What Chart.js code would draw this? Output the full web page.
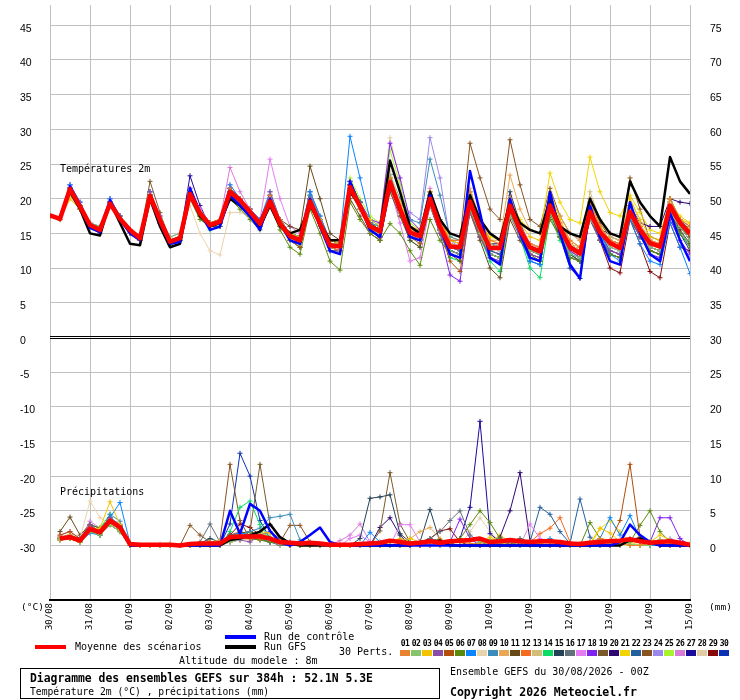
<!DOCTYPE html>
<html>
<head>
<meta charset="utf-8">
<title>Diagramme des ensembles GEFS</title>
<script src="https://cdn.jsdelivr.net/npm/chart.js@4.4.0/dist/chart.umd.min.js"></script>
<style>
  html, body { margin: 0; padding: 0; background: #fff; }
  #wrap { position: relative; width: 740px; height: 700px; overflow: hidden;
          font-family: "DejaVu Sans Mono", "Liberation Mono", monospace; color: #000; }
  #chart { position: absolute; left: 0; top: 0; }
  .txt { position: absolute; white-space: nowrap; font-size: 10px; line-height: 10px; }
  .key { position: absolute; width: 31px; height: 4px; }
  .sw { position: absolute; top: 650px; width: 10px; height: 6px; }
  .num { position: absolute; top: 640px; width: 11px; text-align: center; font-size: 8px;
         line-height: 8px; font-weight: bold; letter-spacing: -0.6px; }
  #box { position: absolute; left: 20px; top: 668px; width: 420px; height: 31px;
         border: 1px solid #000; box-sizing: border-box; }
</style>
</head>
<body>
<div id="wrap">
  <canvas id="chart" width="740" height="700"></canvas>

  <div class="txt" style="left:60px;top:164px">Températures 2m</div>
  <div class="txt" style="left:60px;top:487px">Précipitations</div>
  <div class="txt" style="left:21px;top:602px;font-size:9.5px">(°C)</div>
  <div class="txt" style="left:709px;top:602px;font-size:9.5px">(mm)</div>

  <div class="key" style="left:35px;top:645px;background:#ff0000"></div>
  <div class="txt" style="left:75px;top:642px">Moyenne des scénarios</div>
  <div class="key" style="left:225px;top:635px;background:#0000ff"></div>
  <div class="txt" style="left:264px;top:632px">Run de contrôle</div>
  <div class="key" style="left:225px;top:645px;background:#000"></div>
  <div class="txt" style="left:264px;top:642px">Run GFS</div>
  <div class="txt" style="left:179px;top:656px">Altitude du modele : 8m</div>
  <div class="txt" style="left:339px;top:647px">30 Perts.</div>
  <div id="swatches"></div>

  <div id="box"></div>
  <div class="txt" style="left:30px;top:672px;font-size:11.4px;line-height:12px;font-weight:bold">Diagramme des ensembles GEFS sur 384h : 52.1N 5.3E</div>
  <div class="txt" style="left:30px;top:687px;font-size:9.7px">Température 2m (°C) , précipitations (mm)</div>
  <div class="txt" style="left:450px;top:667px">Ensemble GEFS du 30/08/2026 - 00Z</div>
  <div class="txt" style="left:450px;top:686px;font-size:11.5px;line-height:12px;font-weight:bold">Copyright 2026 Meteociel.fr</div>
</div>

<script>
// time axis (hours after 30/08 00Z) and day labels
const hours = [0,6,12,18,24,30,36,42,48,54,60,66,72,78,84,90,96,102,108,114,120,126,132,138,144,150,156,162,
  168,174,180,186,192,198,204,210,216,222,228,234,240,246,252,258,264,270,276,282,288,294,300,306,312,318,
  324,330,336,342,348,354,360,366,372,378,384];
const dayLabels = ['30/08','31/08','01/09','02/09','03/09','04/09','05/09','06/09','07/09','08/09',
  '09/09','10/09','11/09','12/09','13/09','14/09','15/09'];

const memberColors = ['#e8822e','#88c46c','#f2c300','#8a4ea6','#b04e0a','#5a8a0a','#0a84ff','#e8d4ac',
  '#3a8cba','#e8a858','#654a18','#f46a1e','#d2be78','#0adc64','#234258','#62707a','#e47cf4','#8022f0',
  '#7a5a2a','#2e0870','#f2d400','#24609e','#8a5420','#9c88ec','#a6f430','#d87ad8','#1c0a9a','#e2cca4',
  '#860808','#0a30b4'];

// left axis (°C) ticks, the two ±0.2 ticks make the double zero line
const tempTicks = [-30,-25,-20,-15,-10,-5,-0.2,0,0.2,5,10,15,20,25,30,35,40,45];
const mmTicks = [0,5,10,15,20,25,30,35,40,45,50,55,60,65,70,75];

// temperature 2m (°C)
const tempMean = [17.6,17.1,21.4,18.9, 16.2,15.5,19.3,17.1, 15.5,14.3,20.4,16.9, 13.8,14.3,20.7,17.9,
  16.2,16.7,21.0,19.8, 18.1,16.4,19.6,16.4, 14.6,14.0,19.6,16.4, 13.3,13.1,21.7,18.9, 16.0,15.3,22.4,18.5,
  15.1,14.6,20.0,16.0, 13.1,13.0,19.6,15.8, 12.9,12.9,19.0,15.5, 13.0,12.4,19.0,15.8, 13.0,12.1,18.1,15.2,
  13.6,12.9,18.1,15.5, 13.6,13.1,19.0,16.5, 15.0];
const tempControl = [17.6,17.0,21.8,19.0, 15.8,15.2,19.8,17.0, 15.0,14.0,20.5,16.5, 13.5,13.8,21.5,18.0,
  15.5,16.0,20.5,19.0, 17.5,15.5,20.0,16.5, 14.0,13.5,20.0,16.0, 12.5,12.0,22.5,19.0, 15.5,14.5,22.0,18.5,
  14.5,14.0,20.5,16.0, 12.0,11.5,24.0,18.0, 11.5,10.5,20.0,15.0, 11.5,11.0,21.0,15.0, 10.5,8.5,19.0,14.5,
  11.0,10.5,19.5,15.0, 12.0,11.0,18.0,14.0, 11.0];
const tempGfs = [17.6,17.2,21.0,18.5, 15.0,14.7,19.5,16.5, 13.5,13.3,20.0,16.0, 13.0,13.5,20.5,17.5,
  16.0,16.5,20.0,19.0, 17.5,16.0,19.0,16.0, 15.0,15.5,19.0,16.5, 14.0,14.0,21.0,19.0, 16.0,15.5,25.5,21.0,
  16.0,15.0,21.0,17.0, 15.0,14.5,20.5,17.0, 15.0,14.0,19.5,16.5, 15.5,15.0,20.0,16.0, 15.0,14.5,20.0,17.0,
  15.0,14.5,22.5,19.5, 17.5,16.0,26.0,22.5, 20.7];
const tempPerts = [
  /*01*/ [17.5,17,21.5,19, 16,15.5,19.5,17, 15.5,14,20.5,17, 14,14.5,21,18, 16.5,17,21.5,20, 18.5,16.5,20.5,17, 15,14,20,16.5, 13,12.5,22,19, 16,15,23,19, 15.5,15,21,17, 14,14,21,17, 14,13.5,20,16, 13.5,13,20,16.5, 14,13,19.5,16, 14,13.5,19,16, 14,13.5,20,17, 16],
  /*02*/ [17.5,17,21,18.5, 16.5,16,19,17, 15.5,14.5,20,17, 14.5,15,20,18, 16,16.5,20,19, 17.5,16,19,16, 14,13.5,19,16, 13.5,13.5,21,18.5, 15.5,15,21.5,18, 15,14,19,15.5, 12.5,12,18.5,15, 12,11.5,17.5,15, 12.5,12,18,15, 12,11.5,17,15, 13,12.5,17.5,15, 13,12.5,18,16, 14],
  /*03*/ [17.5,17,20,18.5, 16,15.5,19,17, 15,14,20,17, 14,14.5,20.5,18, 16.5,17,20,19, 18,16.5,19.5,16.5, 15,14.5,19.5,17, 14,13.5,21,19, 17,16,23,19.5, 16,15,21,17, 14,13.5,21,17, 14,13.5,20,16.5, 14.5,14,21,17, 14,13,19.5,16, 14,13,20,17, 14.5,14,20,17, 16.5],
  /*04*/ [17.5,17,21.5,19, 16,15,19.5,17, 15,14,21,17.5, 13.5,14,21.5,18, 16,16.5,21,19.5, 17.5,16,21,17, 14.5,13.5,20,16.5, 12.5,12.5,22.5,19, 15.5,14.5,22,18, 14.5,14,19,15, 12,11.5,18,14.5, 11.5,11,17.5,14.5, 12,11.5,18.5,15, 12.5,11.5,17,14, 12.5,12,17.5,14.5, 13,12.5,18.5,16, 14],
  /*05*/ [17.5,17,21,18.5, 16,15.5,19,17, 15.5,14.5,20,17, 14,14.5,20,17.5, 16,16.5,20.5,19.5, 18,16.5,19,16, 14,13,19,16, 13,12.5,21,18.5, 15.5,14.5,22,18, 14.5,13.5,19.5,15.5, 11,9.5,18,14.5, 12,11.5,18.5,15, 12.5,12,18,15, 13,12.5,17.5,15, 13.5,13,17.5,15, 13,12.5,18.5,16, 14.5],
  /*06*/ [17.5,17,21,18.5, 16,15.5,19,17, 15.5,14.5,20,16.5, 13.5,14,20,17, 16,16,20,18.5, 17,15.5,19,15.5, 13,12,18.5,15, 11,9.7,19.5,17, 15,14,16.4,15, 12.5,10.4,17,14, 12,11.5,18.5,15, 12,11.5,18,15, 12,11,17,14.5, 11.5,11,17,14, 12,11.5,18,15, 12.5,12,17.5,15, 13],
  /*07*/ [17.5,17,22,19.5, 16.5,16,20,17.5, 15.5,14.5,21,17, 14,14.5,21,18, 16.5,17,22,20, 18.5,17,21,17, 15,14.5,21,17.5, 14,14,29,23, 17,16,22,18, 14.5,14,20,15.5, 12,11.5,19,15, 12,11.5,18,14.5, 11,10.5,19,15, 12,11.5,18.5,15, 12,11,17,13.5, 11,10.5,16.5,13, 9.2],
  /*08*/ [17.5,17,20,18.5, 16,15,19,17, 15.5,14.5,20,17, 14,14.5,19,15, 12.5,11.9,18,18, 17.5,16,19,16, 14.5,14,19,16.5, 13.5,13,21,18.5, 16,15,24,19.5, 15.5,15,21,17, 13.5,13,20,16, 13,12.5,19.5,16, 13.5,13,19.5,16, 13.5,12.5,18.5,15.5, 13.5,13,18.5,15.5, 14,13.5,19.5,16.5, 15],
  /*09*/ [17.5,17,21.5,19, 16,15.5,19.5,17.5, 15.5,14.5,20.5,17, 14,14.5,21,18, 16.5,17,21,19.5, 18,16.5,20,17, 15,14.5,20.5,17, 13.5,13,22.5,19.5, 16.5,16,23.5,20, 17,16.5,25.7,20.5, 14.5,14,21,16.5, 13,12.5,19,15.5, 13,12.5,19.5,16, 13,12,18.5,15, 13.5,13,18.5,15.5, 13.5,13,19.5,16.5, 15],
  /*10*/ [17.5,17,21,18.5, 16,15.5,19,17, 15.5,14.5,20,17, 14,14.5,20.5,18, 16.5,17,21,20, 18,16.5,20,16.5, 14.5,14,19.5,16.5, 13.5,13,21.5,19, 16,15.5,22.5,19, 15.5,15,20.5,16.5, 14,13.5,21.5,17, 14,14,23.4,18.5, 15.5,15,20,17.5, 15,14,19.5,16, 14,13.5,18.5,16, 14,13.5,19,16.5, 15.5],
  /*11*/ [17.5,17,21,19, 16,15.5,19,17, 15.5,14.5,20.5,17, 14,14.5,21,18, 16.5,17,21,19.5, 18,16.5,20,17, 16,15.5,24.7,20, 15,14,20,17.5, 15,14,21,17.5, 14,13,19,15, 12,11,18,14, 10,8.6,17,14, 11.5,11,18,14.5, 12,11,17,14, 12,11.5,17,14.5, 12.5,12,18,15.5, 13.5],
  /*12*/ [17.5,17,21.5,19, 16.5,16,19.5,17.5, 15.5,14.5,20.5,17, 14,14.5,20.5,18, 16,16.5,21,20, 18,16.5,19.5,16.5, 14.5,14,20,16.5, 13.5,13,22,19, 16,15.5,22.5,18.5, 15,14.5,20,16, 13.5,13,20,16, 13,13,19,15.5, 13,12.5,19.5,16, 13.5,12.5,18,15.5, 14,13.5,18.5,16, 13.5,13,19,16.5, 15],
  /*13*/ [17.5,17,20.5,18.5, 16,15.5,19,17, 15.5,14.5,20,16.5, 14,14.5,20,17.5, 16,16.5,20.5,19.5, 18,16.5,19,16, 14.5,14,19,16, 13,13,21,18.5, 16,15,22,18.5, 15.5,15,21,17, 14,13.5,20.5,16.5, 13.5,13,19.5,16, 13.5,13,19.5,16, 13.5,13,21,17, 14.5,14,20,16.5, 14,13.5,19.5,16.5, 15.5],
  /*14*/ [17.5,17,21.5,19, 16,15.5,19.5,17, 15,14,20,16.5, 13.5,14,20.5,17.5, 15.5,16,21,19.5, 17.5,16,19.5,16, 14,13,19.5,16, 12.5,12.5,21.5,18.5, 15.5,15,22,18, 14,13,19.5,15, 11.5,11,18.5,14.5, 11,9.5,18,14.5, 10,8.6,17.5,14, 11.5,11,17,14, 12,11.5,17.5,14.5, 12.5,12,18,15, 13.5],
  /*15*/ [17.5,17,21.5,19, 16,15,19.5,17, 15,14,20.5,17, 13.5,14,21,18, 16,16.5,21.5,20, 18,16.5,20,17, 15,14.5,20,17, 13.5,13,22.5,19.5, 16.5,15.5,23.5,19, 15,14,20.5,16.5, 13.5,13,20,16, 13.5,13,21,16.5, 13,12.5,19,15.5, 13,12,18,15, 14,13.5,19,16, 14,13.5,20,17, 15.5],
  /*16*/ [17.5,17,21,18.5, 16,15.5,19,17, 15.5,14.5,20,17, 14,14.5,20.5,18, 16,16.5,20.5,19.5, 18,16.5,19.5,16.5, 15,14.5,21,17.5, 14,13.5,22,19, 16,15,22,18.5, 15,14.5,19.5,16, 13,12.5,19.5,16, 13.5,13,18.5,15.5, 13,12.5,18.5,15.5, 13,12.5,18,15, 13.5,13,18,15.5, 13.5,13,18.5,16, 14.5],
  /*17*/ [17.5,17,22,19.5, 16,15.5,20,17.5, 15.5,14.5,21,17.5, 14,14.5,21.5,18.5, 16.5,17,22,20, 18.5,17,25.7,20, 16,15,21,17, 13.5,13,22.5,19, 15,14,21.5,16.5, 11,11.5,19,15, 13,12.5,20,16, 13,12.5,20,16, 13.5,13,20,16.5, 13,12,18.5,15, 13.5,12.5,18,15, 13.5,13,19.5,16.5, 14.5],
  /*18*/ [17.5,17,21.5,19, 16,15.5,19.5,17, 15.5,14.5,20.5,17, 14,14.5,21,18, 16.5,17,21,20, 18.5,16.5,20,16.5, 14.5,14,20,16.5, 13.5,13,22,19.5, 17,16.5,28,23, 17,15.5,20,15, 9,8.1,18.5,14.5, 11.5,11,18.5,15, 12.5,12,19,15.5, 12.5,11.5,18,15, 13,12.5,18.5,15.5, 12,11.5,17,14, 12],
  /*19*/ [17.5,17,21.5,19, 16,15.5,19.5,17.5, 15.5,14.5,22.5,18, 14,14.5,21,18, 16.5,17,21.5,20, 18.5,17,20.5,17, 15,14.5,20.5,17, 14,13.5,22,19.5, 16.5,15.5,22.5,18.5, 15,14.5,20.5,16, 13,12.5,19.5,15.5, 13,12.5,19,15.5, 13.5,13,19.5,16, 13.5,12.5,19,15.5, 14,13.5,18.5,16, 14.5,14,20,17, 16],
  /*20*/ [17.5,17,21.5,19, 16,15.5,19.5,17, 15,14,20.5,17, 14,14.5,21,18, 16,16.5,21,20, 18,16.5,20,16.5, 14.5,14,20,16.5, 13,13,22,19, 16,15,23,19, 15,14.5,20.5,16.5, 13.5,13,20.5,16.5, 13.5,13.5,19.5,16, 13.5,13,19.5,16, 13.5,12.5,18.5,15.5, 15,14.5,19,16.5, 16,16,20,19.5, 19.3],
  /*21*/ [17.5,17,20.5,18.5, 16,15.5,19,17, 15.5,14.5,20,17, 14,14.5,20,17.5, 16,16.5,20.5,19.5, 18,16.5,19.5,16.5, 15,14.5,19.5,16.5, 14,13.5,21.5,19, 16.5,16,22.5,19, 16,15.5,20.5,17, 14.5,14,20,16.5, 14.5,14,20,17, 15.5,15,23.7,19.5, 17,16.5,26,21, 18,17.5,20.5,18, 15.5,15,19.5,17.5, 16.5],
  /*22*/ [17.5,17,21.5,19, 16,15.5,19.5,17, 15.5,14.5,20.5,17, 14,14.5,21,18, 16.5,17,21.5,20, 18,16.5,20,17, 15,14.5,20,17, 13.5,13,22,19, 16,15,23,19, 15.5,15,21,16.5, 13,12.5,20,16, 12.5,12,19,15.5, 12.5,12,19.5,15.5, 12,11,19,15, 12.5,12,18.5,15, 13.5,13,19,16, 14],
  /*23*/ [17.5,17,21.5,19, 16,15.5,19.5,17, 15.5,14.5,20.5,17, 14,14.5,20.5,18, 16.5,17,21,19.5, 18,16.5,19.5,16.5, 14.5,14,19.5,16.5, 13.5,13,21.5,19, 16,15.5,22,18.5, 15.5,15,20,16.5, 14,14,28,23, 18.5,17,28.5,22, 17,16,21.5,17.5, 15,14,20,16.5, 14.5,14,23,18.5, 14,13,19.5,16.5, 14.5],
  /*24*/ [17.5,17,21.5,19, 16,15.5,19.5,17, 15.5,14.5,20.5,17.5, 14.5,15,21,18.5, 16.5,17,21.5,20, 18.5,17,20.5,17, 15,14.5,20,17, 13.5,13.5,22.5,19.5, 16.5,16,23,19.5, 18,17,28.8,23, 14,13,20,16, 12.5,12,19,15.5, 12.5,12,19,15.5, 12.5,11.5,18,15, 12.5,12,18,15, 13,12.5,18.5,15.5, 13],
  /*25*/ [17.5,17,21.5,19, 16,15.5,19.5,17.5, 15.5,14.5,20.5,17, 14,14.5,21,18, 16.5,17,21,20, 18,16.5,20,16.5, 15,14.5,20.5,17, 14,13.5,23,20, 17.5,16.5,27,22, 16.5,15.5,21,17, 13.5,13,20,16, 13,12.5,19.5,16, 13,12.5,19.5,16, 13,12.5,18.5,16, 15,14.5,18.5,16, 14,13.5,19.5,16.5, 15],
  /*26*/ [17.5,17,21.5,19, 16,15.5,19.5,17, 15.5,14.5,20.5,17, 14,14.5,21,18, 16.5,17,24.5,21, 18.5,17,20.5,17, 15,14.5,20,16.5, 13.5,13,22,19, 16,15,23,19.5, 16,15.5,21.5,17, 14,13.5,21,17, 13.5,13,20.5,16.5, 13.5,13,19.5,16, 12.5,11.5,17.5,14.5, 13.5,13,18,15, 13.5,13,19,16, 14.5],
  /*27*/ [17.5,17,22,19.5, 16,15.5,20,17.5, 15.5,14.5,21,17, 14,14.5,23.3,19, 16,16,21,19.5, 17.5,16,19.5,16, 14.5,14,20,16.5, 13.5,13,22,19, 16.5,15.5,22.5,18.5, 14.5,14,19.5,15.5, 12.5,12,19.5,15.5, 12,11.5,19,15, 12.5,12,19,15.5, 12,11,17.5,14, 12.5,12,18,15, 13,12.5,19,16, 14],
  /*28*/ [17.5,17,21,18.5, 16,15.5,19,17, 15.5,14.5,20,17, 14,14.5,20.5,17.5, 16.5,17,21,19.5, 18,16.5,19.5,16.5, 14.5,14,20,16.5, 13.5,13,22,19.5, 17,16.5,28.8,22.5, 16,15,20.5,16.5, 13.5,13,20,16, 13.5,13,19.5,16, 13.5,13,19.5,16, 13.5,12.5,18.5,15.5, 14,13.5,18.5,16, 14,13.5,19.5,16.5, 15],
  /*29*/ [17.5,17,21.5,19, 16,15.5,19.5,17, 15,14,20,16.5, 13.5,14,20.5,17.5, 16,16.5,21,19.5, 18,16.5,19.5,16.5, 14,13,19.5,16, 12.5,12.5,21.5,18.5, 15.5,14.5,22,18, 14.5,14,19.5,15.5, 12.5,12,19,15, 12.5,12,18.5,15, 12,11.5,18,14.5, 11.5,11,17.5,14, 10,9.3,17,13.5, 9.5,8.6,16.5,13, 12.5],
  /*30*/ [17.5,17,21.5,19, 16,15.5,19.5,17, 15.5,14.5,20.5,17, 14,14.5,20.5,18, 16,16.5,21,19.5, 18,16.5,19.5,16.5, 14.5,14,20,16.5, 13,12.5,22,19, 15.5,14.5,22,18, 14.5,14,19.5,15.5, 12.5,12,19.5,15.5, 12,11.5,19,15, 11,10.5,19,14.5, 10,8.5,18,14, 12,11.5,17.5,14.5, 12.5,12,18,15, 12.5]
];

// precipitation (mm per 6 h), nothing at the analysis time
const precipMean = [null, 1.0,1.2,0.7,2.4,1.9,3.6,2.6,0.2, 0.1,0.1,0.1,0.1,0,0.2,0.3,0.3,0.3,
  1.2,1.3,1.3,1.3,1.0,0.5,0.4,0.3,0.4,0.3,0.1, 0.1,0.1,0.2,0.3,0.4,0.7,0.5,0.3,0.4,0.6,0.4,0.6,
  0.7,0.8,1.0,0.5,0.6,0.8,0.6,0.5,0.6,0.6,0.5,0.3, 0.2,0.4,0.5,0.6,0.7,0.9,0.6,0.4,0.5,0.6,0.4,0.1];
const precipControl = [null, 1,1.2,0.8,2.3,1.8,3.5,2.5,0, 0,0,0,0,0,0,0,0,0, 5,1.7,6,5,2.1,0.5,0,0.5,1.5,2.6,0.5,
  0,0,0,0,0,0,0,0,0,0,0,0, 0,0,0,0,0,0,0,0,0,0,0,0, 0,0,0,0,0.5,3,1.5,0.5,0,0,0,0];
const precipGfs = [null, 1,1.3,0.8,2.4,2,3.6,2.6,0, 0,0,0,0,0,0,0,0,0, 0.8,1,1.5,2,3.1,1.2,0.3,0,0,0,0,
  0,0,0,0,0,0,0,0,0.5,0.7,0.7,0, 0,0,0,0,0,0,0,0,0,0,0,0, 0,0,0,0,0,0.8,1,0.5,0,0,0,0];
const precipPerts = [
  /*01*/ [null, 1.2,1.5,0.8,2.5,2,3.5,2.5,0, 0,0,0,0,0,0,0.3,0.5,0.2, 1,1.5,1.2,1,0.8,0.3,0,0,0,0,0, 0,0,0,0,0,0.5,0.8,0.3,0,0,0.2,0.5, 0.5,0.3,0.2,0,0,0,0,0.5,0.3,0,0,0, 0,0.5,1,0.8,0.3,0,0,0.5,0.3,0,0,0],
  /*02*/ [null, 1,1.2,0.5,2,1.5,3,2,0, 0,0,0,0,0,0,0,0.2,0.3, 0.5,1,1.5,2,1.2,0.5,0.3,0,0,0,0, 0,0,0,0,0,0,0.3,0.5,0.2,0,0,0, 0,0,0.5,0.3,0.2,0,0,0,0.5,0.8,0.3,0, 0,0,0,0.3,0.5,0.2,0,0,0.8,0.5,0.2,0],
  /*03*/ [null, 0.8,1,0.5,2.2,2.5,6.3,3,0.2, 0,0,0,0,0,0,0,0,0, 0.8,1.2,1.5,2,1.8,0.8,0.3,0,0,0,0, 0,0,0,0,0,0,0,1,0.5,0,0,0, 0,0,0.3,1.2,0.5,0,0,0,0.3,0.5,0.2,0, 0,0.3,2.5,1.8,0.5,0,0,0.5,1.5,0.8,0.3,0],
  /*04*/ [null, 1,1.3,1,3,2,4,3,0.3, 0,0,0,0,0,0,0,0,0, 1,0.8,0.5,1.5,2,1,0.5,0.3,0,0,0, 0,0,0,0,0,0,0,0,0,0.5,0.3,0, 0,0,0,0.2,0.3,0.5,0.3,0,0,0,0,0, 0,0,0,0,0.5,1,0.8,0.3,0,0,0,0],
  /*05*/ [null, 1.5,2,1,2.8,2,3.5,2.5,0, 0,0,0,0,0,0,0,0,0, 1.5,1.5,1.2,1,1,0.5,0,0,0,0,0, 0,0,0,0,0,0,0,0,0,0.5,0.8,0.3, 0,0,0,0,0.5,0.3,0,0,0,0,0,0, 0,0.3,0.5,0.5,3.6,11.7,1.2,0.3,0,0,0,0],
  /*06*/ [null, 1,1,0.5,2,1.5,3,2,0, 0,0,0,0,0,0,0.3,0.5,0, 1,1.5,1,0.8,0.5,0.3,0,0,0,0,0, 0,0,0,0,0,0,0,0.5,0.3,0,0,0.5, 1,3,5,3.3,1,0.5,0,0,0,0,0,0, 0,3.3,1,0.5,0.3,0.5,2.9,5,2,0.5,0,0],
  /*07*/ [null, 0.8,1,0.5,1.8,1.5,4,6.2,0.3, 0,0,0,0,0,0,0,0,0, 1.5,1.8,1.5,1,0.5,0.3,0,0,0,0,0, 0,0,0,1.9,0.5,0,0,0,0,0,0,0, 0,0,0,0,0.5,0,0,0,0.5,1,0.3,0, 0,0.3,1,4,1.5,4.3,1,0,0,0,0,0],
  /*08*/ [null, 1,1.5,1,6.4,4,3,2,0.2, 0,0,0,0,0,0,0,0,0, 0.5,0.8,1,1.2,0.8,0.5,0.3,0,0,0,0, 0,0,0,0,0,0,0,0,0,0,0,0, 0,0,0,0,0,0,0,0.3,0.5,0.3,0,0, 0,0,0,0,0,0,0,0,0,0,0,0],
  /*09*/ [null, 1,1.2,0.8,2.5,2,4.5,3.5,0, 0,0,0,0,0,0,0,0,0, 1,1.5,2,2.5,4,4.2,4.5,0.8,0,0,0, 0,0,0,0,0,0,0,0,0,0,0,0, 0,0,0,0,0,0.5,0.8,0.3,0,0,0,0, 0,0,0,0,0,0,0,0,0,0,0,0],
  /*10*/ [null, 1.2,1.5,1,2.5,2.2,4,3,0, 0,0,0.2,0.3,0,0,0,0.5,0.8, 1.2,1,0.8,1.5,1,0.5,0,0,0,0,0, 0,0,0,0,0,0.5,0.8,1,2,2.6,1,0, 0,0,0,0,0,0,0,0,0,0,0,0, 0.3,0.5,0.8,0.5,0,0,0,0.5,0.8,0.5,0,0],
  /*11*/ [null, 2,4.1,1.5,3,2.5,3.5,2.8,0, 0,0,0,0,0,0,0,0,0, 1.5,1.8,2,1.5,1,0.5,0,0,0,0,0, 0,0,0,0,0,0,0,0,0,0,0,0, 0,0,0,0,0,0.5,1,0.5,0,0,0,0, 0,0,0,0,0,0,0,0,0,0,0,0],
  /*12*/ [null, 1,1.2,0.8,2.5,2,3.8,2.5,0, 0,0,0,0,0,0,0,0,0, 1.5,2,1.5,1,0.8,0.3,0,0,0,0,0, 0,0,0,0,0,0,0,0,0,0,0,0, 0,0,0,0,0,0,0,0.5,1.7,2.5,4,0.5, 0,0,0,0,0,0,0,0,0,0,0,0],
  /*13*/ [null, 1,1.3,0.8,2,1.8,3.2,2.2,0, 0,0,0,0,0,0,0,0,0, 0.8,1,1.2,1,0.8,0.5,0.5,0.3,0,0,0, 0,0,0,0,0,0,0,0,0,0,0,0, 0,0,0,0,0,0,0,0,0,0,0,0, 0,0,0.3,0.5,0.3,0,0,0,0,0,0,0],
  /*14*/ [null, 1,1.5,1,3,2.5,4.5,2,0, 0,0,0,0,0,0,0,0,0, 2,5.5,6.4,3,1,0.3,0,0,0,0,0, 0,0,0,0,0,0,0,0,0,0,0,0, 0,0,0.5,0.8,0.3,0,0,0,0,0,0,0, 0,0,0,0,0,0,0,0.5,0.8,0.5,0,0],
  /*15*/ [null, 1,1.2,0.8,2.5,2,3.5,2.5,0, 0,0,0,0,0,0,0.3,1,0.5, 0.5,0.8,1,1,0.8,0.5,0.3,0.3,0,0,0, 0,0,1,6.8,7,7.3,1.7,0.5,0.5,5.2,0.5,0, 0,0,0,0,0,0,0,0,0,0,0,0, 0,0,0,0,0,0,0,0,0,0,0,0],
  /*16*/ [null, 1,1.2,1,2.2,2,3.5,2.5,0, 0,0,0,0,0,0,0.5,3.1,0.5, 0.8,1,1.2,1,0.5,0,0,0,0,0,0, 0,0,0,0,0,0,0,0,0,1,2,3.6, 5,1.5,0.5,0,0,0,0,0,0,0,0,0, 0,0,0,0,0,0,0,0,0,0,0,0],
  /*17*/ [null, 1,1.3,0.8,2.8,2,3.8,3,0, 0,0,0,0,0,0,0,0,0, 1.2,1.5,1.5,1,0.8,0.5,0,0,0,0,0, 0,1,1.5,0.5,0,0,3,3,0.5,0,0,0, 0,0,0,0,0,0,0,3.1,1,0,0,0, 0,0,0,0,0,0,0,0,0,0,0,0],
  /*18*/ [null, 1.2,1.5,1,2.5,2,3.5,3,0, 0,0,0,0,0,0,0,0,0, 1,1.2,1.5,1.5,1,0.5,0,0,0,0,0, 0,0,0,0,0,0,0,0,0,0,0,0.5, 3.8,1,0,0,0,0,0,0,0,0,0,0, 0,0,0,0,0,0,0,0.5,4,4,1,0],
  /*19*/ [null, 1,1.3,0.8,2.5,2.2,3.5,2.5,0, 0,0,0,0,0,0,0,0,0, 0.5,1,2,11.7,3,1,0.3,0,0,0,0, 0,0,0,0,2.1,10.5,3.1,0.5,0,0,0,0, 0,0,0,0,0,0,0,0,0,0,0,0, 0,0,0,0,0,0,0,0,0,0,0,0],
  /*20*/ [null, 1,1.2,0.8,2.2,1.8,3.5,2.8,0, 0,0,0,0,0,0,0,0,0, 1,1.2,1,1,0.8,0.3,0,0,0,0,0, 0,0,0,0,2.6,4,1.5,0,0,0,0,0, 0,0,0,0,1.2,5,10.5,0.7,0,0,0,0, 0,0,0,0,0,0,0,0,0,0,0,0],
  /*21*/ [null, 0.8,1,0.5,2,1.8,3.5,2.5,0, 0,0,0,0,0,0,0,0,0, 0.8,1,1.5,1.8,1.2,0.5,0,0,0,0,0, 0,0,0,0,0,0.5,1,0.5,0,0,0,0, 0,0,0,0.5,1.5,0.5,0,0,0,0,0,0, 0,0,2.4,3.6,2,0.5,0,0,0,0,0.5,0.3],
  /*22*/ [null, 1,1.2,0.8,2.5,2,3.5,2.5,0, 0,0,0,0,0,0,0,0,0, 1,1.5,1.5,1.5,1,0.5,0,0,0,0,0, 0,0,0,0,0,0,0,0,0,0,0,0, 0,0,0,0,0,0,0,0.5,5.5,4.5,2,0.3, 6.7,1.2,0,0,0,0,0,0,0,0,0,0],
  /*23*/ [null, 1,1.2,0.8,2.5,2,3.8,2.8,0, 0,0,0,0,0,2.9,1.5,0.5,0.7, 11.7,3.6,1,0.8,0.5,0.5,2.9,2.9,0.5,0,0, 0,0,0,0,0,0,0,0,0,0,0,0, 0,0,0,0,0,0,0,0,0,0,0,0, 0,0,0,0,0,0,0,0,0,0,0,0],
  /*24*/ [null, 1,1.3,0.8,2.5,2,3.5,2.5,0, 0,0,0,0,0,0,0,0,0, 1,1.2,1.2,1.5,1,0.5,0.3,0,0,0,0, 0,0,0,0,0,0,0,0,0,0,0,0, 0,0,0,0,0,0,0,0,0,0,0,0, 0,0,0,0,0,0,0,0,0.5,1,0.5,0],
  /*25*/ [null, 1.2,1.5,1,3,2.5,4,3,0, 0,0,0,0,0,0,0,0,0, 1,1.5,2,1.5,1.2,0.5,0,0,0,0,0, 0,0,0,0,0,0.5,0.8,0.5,0,0,0,0, 0,0,0,0,0,0,0,0,0,0,0,0, 0,0,0,0,0,0,0,0.3,0.8,0.3,0,0],
  /*26*/ [null, 1.5,2,1,3.5,2.5,4,3,0, 0,0,0,0,0,0,0,0,0, 1.2,1.5,1.2,1,0.8,0.3,0,0,0,0,0, 0.7,1.5,3.1,0.5,0,0,0,0,0,0,0,0, 0,0,0,0,0,0,0,0,0,0,0,0, 0,0,0,0,0,0,0,0,0,0,0,0],
  /*27*/ [null, 1,1.2,0.8,2.5,2,3.5,2.5,0, 0,0,0,0,0,0,0,0,0, 1,1.2,1,1,0.5,0.3,0,0,0,0,0, 0,0,0,0,0,0,0,0,0,0,0,0, 1,5.5,17.9,1.7,0.5,0,0,0,0,0,0,0, 0,0,0,0,0,0,0,0,0,0,0,0],
  /*28*/ [null, 1,1.2,0.8,2.5,2,3.5,2.5,0, 0,0,0,0,0,0,0,0,0, 0.8,1,1.2,1,0.8,0.5,0,0,0,0,0, 0,0,0,0,0,0,0,0,0,0,0,0, 0,2,4,2,0.5,0,0,0,0,0,0,0, 0,0,0,0,0,0,0,0,0,0,0,0],
  /*29*/ [null, 0.8,1,0.5,2,1.5,3,2,0, 0,0,0,0,0,0,0,0,0, 1.5,3.1,2.6,1.5,1,0.5,0,0,0,0,0, 0,0,0,0,0,0,0,0,0.5,1,2.1,2.4, 0.5,0,0,0,0,0,0,0,0,0,0,0, 0,0,0,0,0,0,0,0,0,0,0,0],
  /*30*/ [null, 1,1.2,0.8,2.5,2,3.5,2.5,0, 0,0,0,0,0,0,0,0,0, 3.1,13.3,10,3.6,1,0.5,0,0,0,0,0, 0,0,0,0,0,0,0,0,0,0,0,0, 0,0,0,0,0,0,0,0,0,0,0,0, 0,0,0,0,0,0,0,0,0,0,0,0]
];

// plot range on the °C axis; the mm axis is the same range shifted by 30
const Y_MIN = -37.86;
const Y_MAX = 47.93;
const MM_SHIFT = 30;

// legend swatches
const swBox = document.getElementById('swatches');
memberColors.forEach((c, i) => {
  const n = document.createElement('div');
  n.className = 'num';
  n.style.left = (400 + i * 11 - 0.5) + 'px';
  n.textContent = String(i + 1).padStart(2, '0');
  swBox.appendChild(n);
  const s = document.createElement('div');
  s.className = 'sw';
  s.style.left = (400 + i * 11) + 'px';
  s.style.background = c;
  swBox.appendChild(s);
});

function series(data, axis, color, width, order, marks) {
  return {
    data: data,
    yAxisID: axis,
    borderColor: color,
    backgroundColor: color,
    borderWidth: width,
    borderJoinStyle: 'round',
    order: order,
    fill: false,
    spanGaps: false,
    pointStyle: 'cross',
    pointRadius: marks ? 2.5 : 0,
    pointBorderWidth: 1,
    pointBorderColor: color
  };
}

const datasets = [];
datasets.push(series(tempMean, 'y', '#ff0000', 4.5, 0, false));
datasets.push(series(precipMean, 'y2', '#ff0000', 4.5, 0, false));
datasets.push(series(tempControl, 'y', '#0000ff', 2.5, 1, false));
datasets.push(series(precipControl, 'y2', '#0000ff', 2.5, 1, false));
datasets.push(series(tempGfs, 'y', '#000000', 2.5, 2, false));
datasets.push(series(precipGfs, 'y2', '#000000', 2.5, 2, false));
tempPerts.forEach((d, i) => {
  datasets.push(series(d, 'y', memberColors[i], 1, 3, true));
  datasets.push(series(precipPerts[i], 'y2', memberColors[i], 1, 3, true));
});

const tickFont = { family: 'Liberation Sans', size: 10.5 };

new Chart(document.getElementById('chart').getContext('2d'), {
  type: 'line',
  data: { labels: hours, datasets: datasets },
  options: {
    responsive: false,
    animation: false,
    devicePixelRatio: 1,
    events: [],
    layout: { padding: { left: 20, right: 0, top: 0, bottom: 0 } },
    elements: { line: { tension: 0 } },
    plugins: { legend: { display: false }, tooltip: { enabled: false } },
    scales: {
      x: {
        type: 'linear',
        min: 0,
        max: 384,
        bounds: 'data',
        afterBuildTicks: (s) => { s.ticks = dayLabels.map((_, i) => ({ value: i * 24 })); },
        afterFit: (s) => { s.height = 100; s.paddingLeft = 0; s.paddingRight = 0; },
        grid: { color: '#c0c0c0', lineWidth: 1, drawTicks: false },
        border: { display: true, color: '#000000', width: 2 },
        ticks: {
          autoSkip: false,
          minRotation: 90,
          maxRotation: 90,
          padding: 3,
          color: '#000',
          font: { family: 'DejaVu Sans Mono', size: 9 },
          callback: (v, i) => dayLabels[i]
        }
      },
      y: {
        position: 'left',
        min: Y_MIN,
        max: Y_MAX,
        bounds: 'data',
        afterBuildTicks: (s) => { s.ticks = tempTicks.map((v) => ({ value: v })); },
        afterFit: (s) => { s.width = 30; s.paddingTop = 0; s.paddingBottom = 0; },
        grid: {
          drawTicks: false,
          lineWidth: 1,
          color: (c) => {
            const v = c.tick ? c.tick.value : 1;
            if (Math.abs(v) === 0.2) return '#000000';
            if (v === 0) return 'rgba(0,0,0,0)';
            return '#c0c0c0';
          }
        },
        border: { display: false },
        ticks: {
          autoSkip: false,
          crossAlign: 'far',
          labelOffset: 3.5,
          color: '#000',
          font: tickFont,
          callback: (v) => (v % 5 === 0 ? String(v) : '')
        }
      },
      y2: {
        position: 'right',
        min: Y_MIN + MM_SHIFT,
        max: Y_MAX + MM_SHIFT,
        bounds: 'data',
        afterBuildTicks: (s) => { s.ticks = mmTicks.map((v) => ({ value: v })); },
        afterFit: (s) => { s.width = 50; s.paddingTop = 0; s.paddingBottom = 0; },
        grid: { display: false, drawTicks: false },
        border: { display: false },
        ticks: {
          autoSkip: false,
          padding: 20,
          labelOffset: 3.5,
          color: '#000',
          font: tickFont,
          callback: (v) => String(v)
        }
      }
    }
  }
});
</script>
</body>
</html>
